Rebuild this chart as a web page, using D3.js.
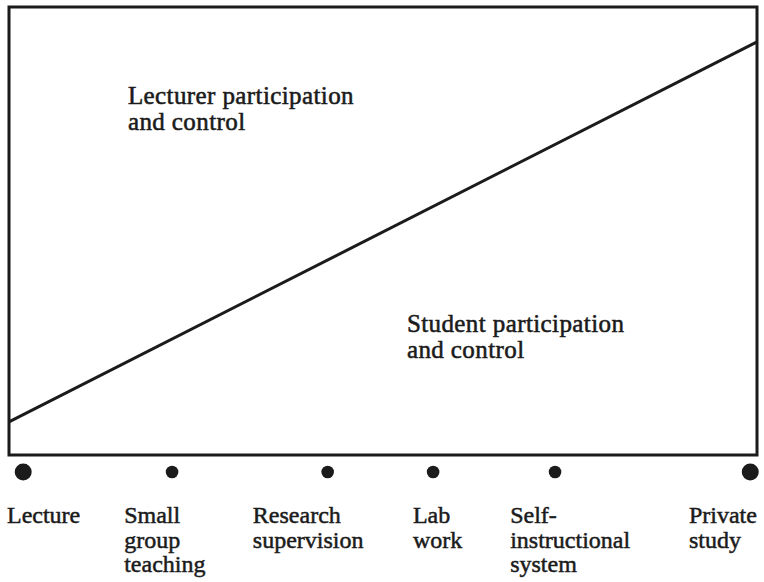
<!DOCTYPE html>
<html><head><meta charset="utf-8">
<script src="https://cdn.jsdelivr.net/npm/d3@7"></script>
<style>html,body{margin:0;padding:0;background:#fff}svg{display:block}</style>
</head><body>
<script>
// ---- data ----
const methods = ["Lecture", "Small group teaching", "Research supervision", "Lab work", "Self-instructional system", "Private study"];
const methodLines = [["Lecture"], ["Small", "group", "teaching"], ["Research", "supervision"], ["Lab", "work"], ["Self-", "instructional", "system"], ["Private", "study"]];
// position of each method on the lecturer -> student continuum (0-100)
const continuumPos = [1.9, 21.8, 42.6, 56.7, 73.0, 99.1];
const isEndpoint = [true, false, false, false, false, true];
// boundary line: student share of participation & control at the two ends (0-100)
const boundaryX = [0, 100];
const studentShare = [7.4, 92.2];
const regionLabels = [["Lecturer participation", "and control"], ["Student participation", "and control"]];

// ---- layout ----
const W = 764, H = 582;
const box = {left: 9, right: 757, top: 7, bottom: 455};
const x = d3.scaleLinear().domain([0, 100]).range([box.left, box.right]);
const y = d3.scaleLinear().domain([0, 100]).range([box.bottom, box.top]);
const ink = "#1b1b1b";
const font = "'Liberation Serif', 'Times New Roman', serif";

const svg = d3.select("body").append("svg").attr("width", W).attr("height", H);

// frame
svg.append("rect")
  .attr("x", x(0)).attr("y", y(100))
  .attr("width", x(100) - x(0)).attr("height", y(0) - y(100))
  .attr("fill", "none").attr("stroke", ink).attr("stroke-width", 3);

// boundary line
const pts = boundaryX.map((v, i) => [v, studentShare[i]]);
svg.append("path")
  .attr("d", d3.line().x(d => x(d[0])).y(d => y(d[1]))(pts))
  .attr("fill", "none").attr("stroke", ink).attr("stroke-width", 3);

// region labels
const regionPos = [{x: 15.9, y: 78.3}, {x: 53.2, y: 27.4}]; // in scale units
regionLabels.forEach((lines, i) => {
  lines.forEach((s, j) => svg.append("text")
    .attr("x", x(regionPos[i].x)).attr("y", y(regionPos[i].y) + j * 26)
    .attr("font-family", font).attr("font-size", 25).attr("letter-spacing", 0.4)
    .attr("fill", ink).attr("stroke", ink).attr("stroke-width", 0.55)
    .text(s));
});

// method dots
const dotY = box.bottom + 17;
svg.selectAll("circle.m").data(methods).join("circle")
  .attr("class", "m")
  .attr("cx", (d, i) => x(continuumPos[i]))
  .attr("cy", dotY)
  .attr("r", (d, i) => isEndpoint[i] ? 8.5 : 6.3)
  .attr("fill", ink);

// method labels (left edges, in scale units)
const labelLeft = [-0.27, 15.4, 32.6, 54.0, 67.0, 90.9];
const labelTop = 523, lineGap = 24.5;
svg.selectAll("text.m").data(methods).join("text")
  .attr("class", "m")
  .attr("font-family", font).attr("font-size", 24)
  .attr("fill", ink).attr("stroke", ink).attr("stroke-width", 0.5)
  .each(function(d, i) {
    const t = d3.select(this);
    methodLines[i].forEach((s, j) => t.append("tspan")
      .attr("x", x(labelLeft[i])).attr("y", labelTop + j * lineGap).text(s));
  });
</script>
</body></html>
